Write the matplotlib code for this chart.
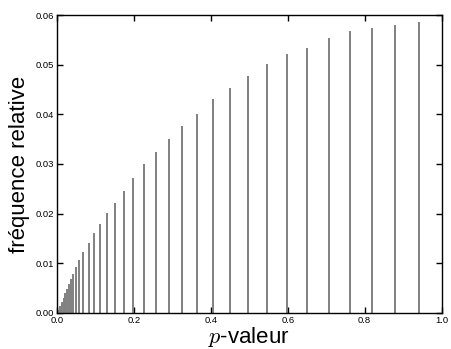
import matplotlib
matplotlib.use("Agg")
import matplotlib.pyplot as plt

plt.rcParams['font.family'] = ['Liberation Sans', 'DejaVu Sans']
plt.rcParams['mathtext.fontset'] = 'cm'

p_values = [0.0015, 0.003, 0.0044, 0.0088, 0.0130, 0.0174, 0.0219, 0.0260, 0.0310,
            0.0358, 0.0410, 0.0492, 0.0582, 0.0688, 0.0820, 0.0973, 0.1129,
            0.1311, 0.1519, 0.1735, 0.1988, 0.2274, 0.2576, 0.2906, 0.3262,
            0.3652, 0.4058, 0.4500, 0.4961, 0.5450, 0.5970, 0.6500, 0.7060,
            0.7620, 0.8200, 0.8800, 0.9400]
frequencies = [0.0002, 0.0004, 0.0007, 0.0014, 0.0022, 0.0030, 0.0040, 0.0049, 0.0059,
               0.0068, 0.0079, 0.0093, 0.0106, 0.0122, 0.0140, 0.0161, 0.0180,
               0.0202, 0.0222, 0.0246, 0.0271, 0.0300, 0.0324, 0.0350, 0.0376,
               0.0401, 0.0431, 0.0454, 0.0477, 0.0501, 0.0521, 0.0534, 0.0553,
               0.0567, 0.0574, 0.0580, 0.0586]
x_ticks = [0.0, 0.2, 0.4, 0.6, 0.8, 1.0]
y_ticks = [0.00, 0.01, 0.02, 0.03, 0.04, 0.05, 0.06]

fig = plt.figure(figsize=(4.51, 3.49), dpi=100)
ax = fig.add_axes([0.1264, 0.1032, 0.8527, 0.8538])
ax.vlines(p_values, 0, frequencies, colors='0.5', linewidth=1.4)
ax.set_xlim(0, 1.0)
ax.set_ylim(0, 0.06)
ax.set_xticks(x_ticks)
ax.set_xticklabels([f"{v:.1f}" for v in x_ticks])
ax.set_yticks(y_ticks)
ax.set_yticklabels([f"{v:.2f}" for v in y_ticks])
ax.tick_params(direction='in', top=True, right=True, length=4, width=1,
               labelsize=6.8, pad=2)
for s in ax.spines.values():
    s.set_linewidth(1)
ax.set_xlabel(r'$p$-valeur', fontsize=16, labelpad=0)
ax.set_ylabel('fréquence relative', fontsize=16, labelpad=4)
fig.savefig('out.png', dpi=100)
